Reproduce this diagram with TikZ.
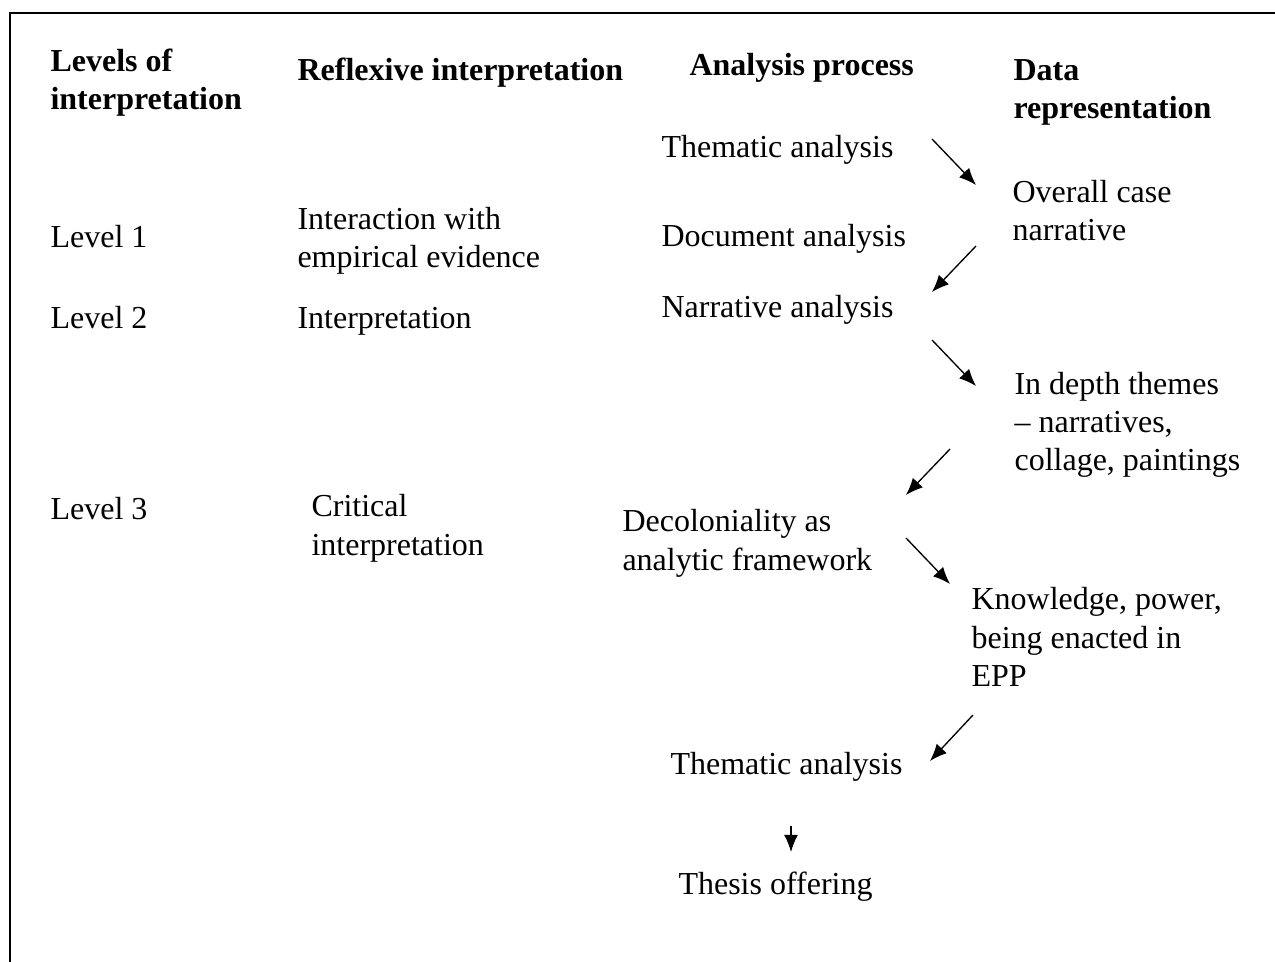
\documentclass[tikz,border=0pt]{standalone}
\usepackage{fontspec}
\setmainfont{Liberation Serif}
\usetikzlibrary{arrows.meta}

\begin{document}
\begin{tikzpicture}[x=0.375pt, y=-0.375pt,
                    heading/.style={font=\bfseries\fontsize{12}{14.25}\selectfont, align=left, anchor=base west, inner sep=0pt},
                    entry/.style={font=\fontsize{12}{14.25}\selectfont, align=left, anchor=base west, inner sep=0pt},
                    link/.style={-{Latex[length=6.4pt,width=5.2pt]}, line width=0.5pt},
                    frame/.style={line width=0.9pt}]
            \useasboundingbox (0,0) rectangle (1275,962);
            \draw[frame] (1275,13) -- (10,13) -- (10,962);

            % Headings (base = last line)
            \node[heading] (levhead) at (50,110) {Levels of\\interpretation};
            \node[heading] (reflhead) at (297,81) {Reflexive interpretation};
            \node[heading] (anahead) at (689,76) {Analysis process};
            \node[heading] (datahead) at (1013,119) {Data\\representation};

            % Levels
            \node[entry] (lev1) at (50,248) {Level 1};
            \node[entry] (lev2) at (50,329) {Level 2};
            \node[entry] (lev3) at (50,520) {Level 3};

            % Reflexive interpretation
            \node[entry] (refl1) at (297,268) {Interaction with\\empirical evidence};
            \node[entry] (refl2) at (297,329) {Interpretation};
            \node[entry] (refl3) at (311,555) {Critical\\interpretation};

            % Analysis process
            \node[entry] (thematic) at (661,158) {Thematic analysis};
            \node[entry] (document) at (661,247) {Document analysis};
            \node[entry] (narrative) at (661,318) {Narrative analysis};
            \node[entry] (decol) at (622,570) {Decoloniality as\\analytic framework};
            \node[entry] (thematicb) at (670,774) {Thematic analysis};
            \node[entry] (thesis) at (678,894) {Thesis offering};

            % Data representation
            \node[entry] (overall) at (1012,241) {Overall case\\narrative};
            \node[entry] (indepth) at (1014,471) {In depth themes\\-- narratives,\\collage, paintings};
            \node[entry] (knowledge) at (971,686) {Knowledge, power,\\being enacted in\\EPP};

            % Arrow ends
            \coordinate (a1s) at (932,139);  \coordinate (a1e) at (976,185);
            \coordinate (a2s) at (976,246);  \coordinate (a2e) at (932,292);
            \coordinate (a3s) at (932,340);  \coordinate (a3e) at (976,386);
            \coordinate (a4s) at (950,449);  \coordinate (a4e) at (906,495);
            \coordinate (a5s) at (906,538);  \coordinate (a5e) at (950,584);
            \coordinate (a6s) at (973,715);  \coordinate (a6e) at (930,761);
            \coordinate (a7s) at (791,826);  \coordinate (a7e) at (791,852);

            % Arrows
            \draw[link] (a1s) -- (a1e);
            \draw[link] (a2s) -- (a2e);
            \draw[link] (a3s) -- (a3e);
            \draw[link] (a4s) -- (a4e);
            \draw[link] (a5s) -- (a5e);
            \draw[link] (a6s) -- (a6e);
            \draw[link] (a7s) -- (a7e);
        \end{tikzpicture}
\end{document}
